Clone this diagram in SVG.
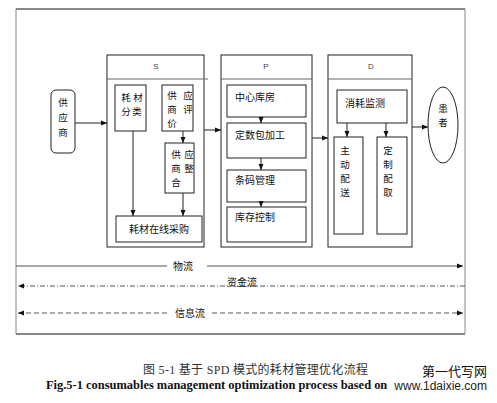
<svg xmlns="http://www.w3.org/2000/svg" width="497" height="403" viewBox="0 0 497 403">
<style>
.box{fill:#fff;stroke:#222;stroke-width:1}
.hd{fill:none;stroke:#666;stroke-width:1}
.t{font-family:"Noto Sans CJK SC","Liberation Sans",sans-serif;font-size:10px;fill:#111}
.v{font-family:"Noto Sans CJK SC","Liberation Sans",sans-serif;font-size:9.5px;fill:#111;text-anchor:middle}
.c{text-anchor:middle}
.h{font-family:"Liberation Sans",sans-serif;font-size:8px;fill:#444;text-anchor:middle}
.ln{fill:none;stroke:#222;stroke-width:1}
.fl{fill:none;stroke:#555;stroke-width:1}
</style>
<defs>
<marker id="ah" viewBox="0 0 6 6" refX="6" refY="3" markerWidth="6" markerHeight="6" orient="auto" markerUnits="userSpaceOnUse">
<path d="M0,0.5 L6,3 L0,5.5 Z" fill="#111"/>
</marker>
<clipPath id="capclip"><rect x="0" y="376" width="389" height="20"/></clipPath>
</defs>
<rect width="497" height="403" fill="#fff"/>
<g id="frame">
<line x1="16" y1="9" x2="465" y2="9" stroke="#111"/>
<line x1="16" y1="334" x2="465" y2="334" stroke="#111"/>
<line x1="16" y1="9" x2="16" y2="334" stroke="#888"/>
<line x1="465" y1="9" x2="465" y2="334" stroke="#888"/>
</g>
<g id="supplier">
<rect x="51" y="90" width="24" height="63" rx="5" class="box"/>
<text class="v" x="63" y="106">供</text>
<text class="v" x="63" y="121">应</text>
<text class="v" x="63" y="136">商</text>
</g>
<g id="S">
<rect x="107" y="55" width="97" height="192" class="box"/>
<line x1="107" y1="79" x2="208" y2="79" class="hd"/>
<text class="h" x="156" y="69">S</text>
</g>
<g id="haocai-fenlei">
<rect x="115" y="85" width="31" height="46" class="box"/>
<text class="v" x="126" y="101">耗</text><text class="v" x="138" y="101">材</text>
<text class="v" x="126" y="115">分</text><text class="v" x="137" y="115">类</text>
</g>
<g id="gys-pingjia">
<rect x="162" y="85" width="31" height="46" class="box"/>
<text class="v" x="172" y="99">供</text><text class="v" x="188" y="99">应</text>
<text class="v" x="172" y="113">商</text><text class="v" x="188" y="113">评</text>
<text class="v" x="172" y="127">价</text>
</g>
<g id="gys-zhenghe">
<rect x="165" y="143" width="29" height="50" class="box"/>
<text class="v" x="176" y="158">供</text><text class="v" x="189" y="158">应</text>
<text class="v" x="176" y="172">商</text><text class="v" x="189" y="172">整</text>
<text class="v" x="176" y="186">合</text>
</g>
<g id="zaixian-caigou">
<rect x="116" y="216" width="86" height="26" class="box"/>
<text class="t c" x="159" y="233">耗材在线采购</text>
</g>
<g id="P">
<rect x="221" y="55" width="91" height="192" class="box"/>
<line x1="221" y1="79" x2="312" y2="79" class="hd"/>
<text class="h" x="266" y="69">P</text>
</g>
<g id="zhongxin-kufang">
<rect x="227" y="85" width="79" height="32" class="box"/>
<text class="t" x="235" y="101">中心库房</text>
</g>
<g id="dingshubao">
<rect x="227" y="123" width="79" height="35" class="box"/>
<text class="t" x="235" y="139">定数包加工</text>
</g>
<g id="tiaoma">
<rect x="227" y="170" width="79" height="32" class="box"/>
<text class="t" x="235" y="184">条码管理</text>
</g>
<g id="kucun">
<rect x="227" y="207" width="79" height="35" class="box"/>
<text class="t" x="235" y="221">库存控制</text>
</g>
<g id="D">
<rect x="328" y="55" width="84" height="192" class="box"/>
<line x1="328" y1="79" x2="412" y2="79" class="hd"/>
<text class="h" x="371" y="69">D</text>
</g>
<g id="xiaohao-jiance">
<rect x="337" y="90" width="70" height="33" class="box"/>
<text class="t" x="345" y="107">消耗监测</text>
</g>
<g id="zhudong-peisong">
<rect x="334" y="137" width="29" height="97" class="box"/>
<text class="v" x="345" y="154">主</text>
<text class="v" x="345" y="168">动</text>
<text class="v" x="345" y="182">配</text>
<text class="v" x="345" y="196">送</text>
</g>
<g id="dingzhi-peiqu">
<rect x="377" y="137" width="30" height="97" class="box"/>
<text class="v" x="388" y="154">定</text>
<text class="v" x="388" y="168">制</text>
<text class="v" x="388" y="182">配</text>
<text class="v" x="388" y="196">取</text>
</g>
<g id="patient">
<ellipse cx="443" cy="125" rx="15" ry="38" class="box"/>
<text class="v" x="443" y="112">患</text>
<text class="v" x="443" y="126">者</text>
</g>
<g id="connectors">
<line x1="75" y1="123" x2="107" y2="123" class="ln" marker-end="url(#ah)"/>
<line x1="204" y1="130" x2="221" y2="130" class="ln" marker-end="url(#ah)"/>
<line x1="312" y1="138" x2="328" y2="138" class="ln" marker-end="url(#ah)"/>
<line x1="412" y1="127" x2="428" y2="127" class="ln" marker-end="url(#ah)"/>
<line x1="133" y1="131" x2="133" y2="216" class="ln" marker-end="url(#ah)"/>
<line x1="183" y1="131" x2="183" y2="143" class="ln" marker-end="url(#ah)"/>
<line x1="183" y1="193" x2="183" y2="216" class="ln" marker-end="url(#ah)"/>
<line x1="261" y1="117" x2="261" y2="123" class="ln" marker-end="url(#ah)"/>
<line x1="261" y1="158" x2="261" y2="170" class="ln" marker-end="url(#ah)"/>
<line x1="261" y1="202" x2="261" y2="207" class="ln" marker-end="url(#ah)"/>
<line x1="347" y1="123" x2="347" y2="137" class="ln" marker-end="url(#ah)"/>
<line x1="386" y1="123" x2="386" y2="137" class="ln" marker-end="url(#ah)"/>
</g>
<g id="flows">
<line x1="16" y1="266" x2="167" y2="266" class="fl"/>
<line x1="207" y1="266" x2="463" y2="266" class="fl" marker-end="url(#ah)"/>
<text class="t c" x="183" y="270">物流</text>
<line x1="465" y1="286" x2="18" y2="286" class="fl" stroke-dasharray="5,2,1,2" marker-end="url(#ah)"/>
<text class="t c" x="242" y="286">资金流</text>
<line x1="167" y1="313" x2="18" y2="313" class="fl" stroke-dasharray="5,3" marker-end="url(#ah)"/>
<line x1="212" y1="313" x2="463" y2="313" class="fl" stroke-dasharray="5,3" marker-end="url(#ah)"/>
<text class="t c" x="190" y="317">信息流</text>
</g>
<g id="caption">
<text x="143" y="374" font-family="'Liberation Serif','Noto Sans CJK SC',serif" font-size="12" fill="#333" textLength="225" lengthAdjust="spacing">图 5-1 基于 SPD 模式的耗材管理优化流程</text>
<text x="46" y="389" clip-path="url(#capclip)" font-family="'Liberation Serif',serif" font-size="12" font-weight="bold" fill="#111" textLength="400" lengthAdjust="spacingAndGlyphs">Fig.5-1 consumables management optimization process based on SPD mode</text>
<text x="487" y="376" text-anchor="end" font-family="'Noto Sans CJK SC',sans-serif" font-size="13" fill="#111">第一代写网</text>
<text x="487" y="390" text-anchor="end" font-family="'Liberation Sans',sans-serif" font-size="12" fill="#222">www.1daixie.com</text>
</g>
</svg>
